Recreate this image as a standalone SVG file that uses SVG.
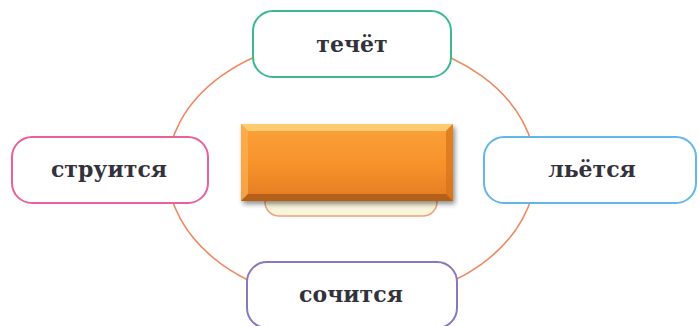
<svg xmlns="http://www.w3.org/2000/svg" width="699" height="326" viewBox="0 0 699 326">
<defs>
<style>
.node rect{fill:#ffffff;stroke-width:2}
.lbl{font-family:"DejaVu Serif","Liberation Serif",serif;font-size:22px;font-weight:bold;fill:#33323c;text-anchor:middle}
.conn{fill:none;stroke:#f08860;stroke-width:1.6}
</style>
<linearGradient id="og" x1="0" y1="0" x2="0" y2="1">
<stop offset="0" stop-color="#fba13a"/>
<stop offset="0.5" stop-color="#f8932c"/>
<stop offset="1" stop-color="#e27c22"/>
</linearGradient>
<filter id="sh" x="-10%" y="-10%" width="130%" height="140%">
<feGaussianBlur in="SourceAlpha" stdDeviation="2.5"/>
<feOffset dx="2" dy="3"/>
<feComponentTransfer><feFuncA type="linear" slope="0.45"/></feComponentTransfer>
<feMerge><feMergeNode/><feMergeNode in="SourceGraphic"/></feMerge>
</filter>
</defs>
<rect width="699" height="326" fill="#ffffff"/>
<g id="connectors">
<ellipse class="conn" cx="351.5" cy="170" rx="184" ry="133"/>
</g>
<g id="center">
<rect x="265" y="180" width="172" height="36" rx="14" fill="#f9f5dc" stroke="#f0a27a" stroke-width="1.5"/>
<g filter="url(#sh)">
<rect x="241" y="124" width="212" height="77" fill="url(#og)"/>
<polygon points="241,124 453,124 446,131 248,131" fill="#ffd27a" opacity="0.85"/>
<polygon points="241,124 248,131 248,194 241,201" fill="#fbb052" opacity="0.7"/>
<polygon points="453,124 453,201 446,194 446,131" fill="#d5721c" opacity="0.7"/>
<polygon points="241,201 248,194 446,194 453,201" fill="#a85818" opacity="0.8"/>
</g>
</g>
<g id="node-top" class="node">
<rect x="253" y="11" width="198" height="66" rx="20" stroke="#3cb98a"/>
<text class="lbl" x="352" y="52">течёт</text>
</g>
<g id="node-left" class="node">
<rect x="12" y="137" width="196" height="66" rx="20" stroke="#e8609e"/>
<text class="lbl" x="109" y="177">струится</text>
</g>
<g id="node-right" class="node">
<rect x="484" y="137" width="212" height="66" rx="20" stroke="#62b6ea"/>
<text class="lbl" x="592" y="177">льётся</text>
</g>
<g id="node-bottom" class="node">
<rect x="247" y="262" width="210" height="66" rx="20" stroke="#8878bc"/>
<text class="lbl" x="351" y="302">сочится</text>
</g>
</svg>
